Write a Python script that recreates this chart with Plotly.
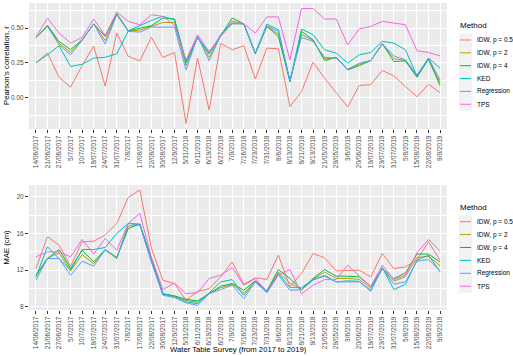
import plotly.graph_objects as go

dates = ["14/06/2017", "21/06/2017", "27/06/2017", "5/7/2017", "10/7/2017", "18/07/2017",
         "24/07/2017", "31/07/2017", "7/8/2017", "17/08/2017", "22/08/2017", "30/08/2017",
         "12/9/2017", "5/31/2018", "6/11/2018", "6/19/2018", "6/27/2018", "7/9/2018",
         "7/16/2018", "7/23/2018", "7/31/2018", "8/6/2018", "8/13/2018", "8/21/2018",
         "9/13/2018", "21/05/2019", "29/05/2019", "3/6/2019", "20/06/2019", "19/07/2019",
         "23/07/2019", "31/07/2019", "5/8/2019", "15/08/2019", "22/08/2019", "9/9/2019"]

methods = ["IDW, p = 0.5", "IDW, p = 2", "IDW, p = 4", "KED", "Regression", "TPS"]
colors = ["#F8766D", "#B79F00", "#00BA38", "#00BFC4", "#619CFF", "#F564E3"]

# Pearson's correlation, r
r_idw05 = [0.25, 0.32, 0.147, 0.075, 0.23, 0.37, 0.084, 0.464, 0.296, 0.264, 0.433, 0.288,
           0.325, -0.185, 0.284, -0.089, 0.39, 0.344, 0.373, 0.135, 0.356, 0.351, -0.065, 0.043,
           0.255, 0.14, 0.036, -0.067, 0.087, 0.094, 0.195, 0.156, 0.08, 0.007, 0.096, 0.036]
r_idw2 = [0.428, 0.515, 0.39, 0.325, 0.413, 0.53, 0.41, 0.60, 0.478, 0.485, 0.512, 0.54,
          0.54, 0.23, 0.436, 0.29, 0.445, 0.55, 0.53, 0.318, 0.515, 0.458, 0.12, 0.455,
          0.41, 0.278, 0.287, 0.202, 0.24, 0.267, 0.387, 0.28, 0.268, 0.155, 0.28, 0.107]
r_idw4 = [0.428, 0.52, 0.404, 0.344, 0.416, 0.53, 0.44, 0.603, 0.48, 0.5, 0.517, 0.572,
          0.565, 0.26, 0.433, 0.32, 0.445, 0.572, 0.53, 0.315, 0.512, 0.44, 0.115, 0.476,
          0.416, 0.267, 0.29, 0.2, 0.23, 0.267, 0.387, 0.26, 0.264, 0.147, 0.276, 0.087]
r_ked = [0.25, 0.308, 0.373, 0.224, 0.24, 0.284, 0.29, 0.315, 0.48, 0.517, 0.555, 0.584,
         0.56, 0.25, 0.428, 0.315, 0.452, 0.536, 0.53, 0.32, 0.529, 0.488, 0.115, 0.493,
         0.452, 0.344, 0.32, 0.248, 0.308, 0.325, 0.404, 0.392, 0.344, 0.156, 0.284, 0.212]
r_reg = [0.428, 0.512, 0.38, 0.308, 0.411, 0.53, 0.385, 0.596, 0.476, 0.471, 0.507, 0.507,
         0.507, 0.2, 0.44, 0.267, 0.445, 0.53, 0.53, 0.32, 0.517, 0.476, 0.127, 0.433,
         0.404, 0.29, 0.284, 0.204, 0.248, 0.267, 0.387, 0.3, 0.272, 0.163, 0.284, 0.127]
r_tps = [0.435, 0.572, 0.464, 0.392, 0.433, 0.565, 0.447, 0.615, 0.548, 0.524, 0.596, 0.584,
         0.52, 0.27, 0.452, 0.332, 0.44, 0.536, 0.53, 0.464, 0.58, 0.58, 0.272, 0.64,
         0.64, 0.565, 0.565, 0.38, 0.493, 0.512, 0.548, 0.536, 0.524, 0.337, 0.325, 0.30]

# MAE (cm)
m_idw05 = [12.18, 15.64, 14.73, 12.44, 15.09, 15.16, 15.82, 17.09, 19.93, 20.73, 14.4, 10.9,
           10.55, 8.73, 9.7, 10.0, 11.27, 12.9, 10.47, 11.16, 11.0, 13.64, 10.18, 11.64,
           13.82, 13.35, 11.93, 11.93, 12.0, 11.27, 13.82, 12.18, 12.36, 13.09, 15.09, 13.09]
m_idw2 = [11.3, 13.3, 13.9, 11.9, 13.7, 12.7, 14.2, 13.3, 16.8, 17.0, 13.1, 9.4,
          9.1, 8.7, 8.5, 9.45, 10.1, 10.45, 9.5, 10.8, 9.65, 11.8, 10.6, 9.9,
          11.0, 11.8, 11.1, 11.1, 11.0, 10.05, 12.15, 10.8, 11.3, 13.4, 13.5, 12.5]
m_idw4 = [11.45, 13.27, 14.25, 12.18, 14.18, 12.9, 14.25, 13.38, 16.55, 17.02, 13.3, 9.45,
          9.2, 8.84, 8.65, 9.45, 10.25, 10.55, 9.82, 10.84, 9.75, 12.07, 11.09, 9.89,
          11.09, 12.07, 11.35, 11.35, 11.27, 10.25, 12.18, 11.09, 11.7, 13.75, 13.75, 12.9]
m_ked = [11.27, 14.55, 13.27, 12.0, 14.25, 14.25, 14.47, 16.0, 17.09, 17.02, 13.0, 9.38,
         9.2, 8.55, 8.36, 9.53, 10.73, 10.98, 9.27, 10.73, 9.64, 11.64, 10.1, 10.1,
         10.98, 11.35, 10.73, 10.84, 10.8, 9.71, 12.29, 9.89, 10.47, 13.09, 13.64, 11.82]
m_reg = [10.91, 13.27, 13.27, 11.45, 12.98, 12.44, 14.25, 13.27, 17.09, 16.9, 12.9, 9.27,
         9.02, 8.44, 8.18, 9.45, 9.89, 10.36, 8.91, 10.73, 9.53, 11.45, 9.82, 9.89,
         10.91, 11.45, 10.73, 10.73, 10.73, 9.82, 12.18, 10.47, 10.73, 12.98, 13.16, 11.93]
m_tps = [13.45, 14.0, 14.0, 13.45, 15.35, 13.75, 15.45, 14.18, 17.09, 18.18, 13.4, 9.9,
         10.6, 9.45, 9.56, 11.09, 11.45, 12.29, 10.36, 11.09, 9.64, 11.53, 12.07, 9.45,
         10.36, 10.98, 10.98, 12.55, 11.35, 10.25, 12.55, 10.98, 11.45, 13.89, 15.35, 14.1]

r_series = [r_idw05, r_idw2, r_idw4, r_ked, r_reg, r_tps]
m_series = [m_idw05, m_idw2, m_idw4, m_ked, m_reg, m_tps]

W, H = 513, 356
FONT = "Liberation Sans, Arial, sans-serif"

fig = go.Figure()
for name, col, ys in zip(methods, colors, r_series):
    fig.add_trace(go.Scatter(x=dates, y=ys, mode="lines", name=name, showlegend=False,
                             line=dict(color=col, width=1), xaxis="x", yaxis="y"))
for name, col, ys in zip(methods, colors, m_series):
    fig.add_trace(go.Scatter(x=dates, y=ys, mode="lines", name=name, showlegend=False,
                             line=dict(color=col, width=1), xaxis="x2", yaxis="y2"))

def px_x(p):
    return p / W

def px_y(p):
    return 1 - p / H

xdom = [px_x(29), px_x(447)]
tickfont = dict(family=FONT, size=6.5, color="#4D4D4D")
xcommon = dict(domain=xdom, type="category", categoryorder="array", categoryarray=dates,
               range=[-0.6, 35.6], tickangle=-90, tickfont=tickfont, ticks="outside",
               ticklen=3, tickwidth=0.7, tickcolor="#333333", showgrid=True,
               gridcolor="white", gridwidth=0.9, zeroline=False, showline=False,
               automargin=False)
ycommon = dict(tickfont=tickfont, ticks="outside", ticklen=3, tickwidth=0.7,
               tickcolor="#333333", showgrid=True, gridcolor="white", gridwidth=0.9,
               zeroline=False, showline=False, automargin=False)

fig.update_layout(
    width=W, height=H, autosize=False,
    margin=dict(l=0, r=0, t=0, b=0),
    paper_bgcolor="white", plot_bgcolor="#EBEBEB",
    font=dict(family=FONT),
    xaxis=dict(anchor="y", **xcommon),
    xaxis2=dict(anchor="y2", **xcommon),
    yaxis=dict(domain=[px_y(129), px_y(3)], anchor="x", range=[-0.225, 0.68],
               tickvals=[0.0, 0.25, 0.5], ticktext=["0.00", "0.25", "0.50"],
               minor=dict(tickvals=[-0.125, 0.125, 0.375, 0.625], showgrid=True,
                          gridcolor="white", gridwidth=0.45, ticks=""),
               **ycommon),
    yaxis2=dict(domain=[px_y(310), px_y(185)], anchor="x2", range=[7.67, 21.27],
                tickvals=[8, 12, 16, 20],
                minor=dict(tickvals=[10, 14, 18], showgrid=True,
                           gridcolor="white", gridwidth=0.45, ticks=""),
                **ycommon),
)

annotations = []
shapes = []

# axis titles
annotations.append(dict(text="Pearson's correlation, r", x=px_x(6), y=px_y(66), xref="paper",
                        yref="paper", textangle=-90, showarrow=False,
                        font=dict(family=FONT, size=7.7, color="black"),
                        xanchor="center", yanchor="middle"))
annotations.append(dict(text="MAE (cm)", x=px_x(6), y=px_y(247.5), xref="paper",
                        yref="paper", textangle=-90, showarrow=False,
                        font=dict(family=FONT, size=7.7, color="black"),
                        xanchor="center", yanchor="middle"))
annotations.append(dict(text="Water Table Survey (from 2017 to 2019)", x=px_x(238),
                        y=px_y(349), xref="paper", yref="paper", showarrow=False,
                        font=dict(family=FONT, size=7.7, color="black"),
                        xanchor="center", yanchor="middle"))

# manual legends (ggplot style)
def add_legend(title_y, first_y, step):
    annotations.append(dict(text="Method", x=px_x(458), y=px_y(title_y), xref="paper",
                            yref="paper", showarrow=False, xanchor="left", yanchor="middle",
                            font=dict(family=FONT, size=8, color="black")))
    top = first_y - step / 2
    bottom = first_y + step * 5 + step / 2
    shapes.append(dict(type="rect", xref="paper", yref="paper", x0=px_x(459), x1=px_x(472),
                       y0=px_y(bottom), y1=px_y(top), fillcolor="#F2F2F2",
                       line=dict(width=0), layer="above"))
    for k, (name, col) in enumerate(zip(methods, colors)):
        yy = first_y + k * step
        shapes.append(dict(type="line", xref="paper", yref="paper", x0=px_x(460),
                           x1=px_x(471), y0=px_y(yy), y1=px_y(yy),
                           line=dict(color=col, width=1), layer="above"))
        annotations.append(dict(text=name, x=px_x(475), y=px_y(yy), xref="paper",
                                yref="paper", showarrow=False, xanchor="left",
                                yanchor="middle",
                                font=dict(family=FONT, size=6.5, color="black")))

add_legend(26, 40, 12.85)
add_legend(207.7, 221.7, 12.9)

fig.update_layout(annotations=annotations, shapes=shapes)
fig.write_html("out.html")
